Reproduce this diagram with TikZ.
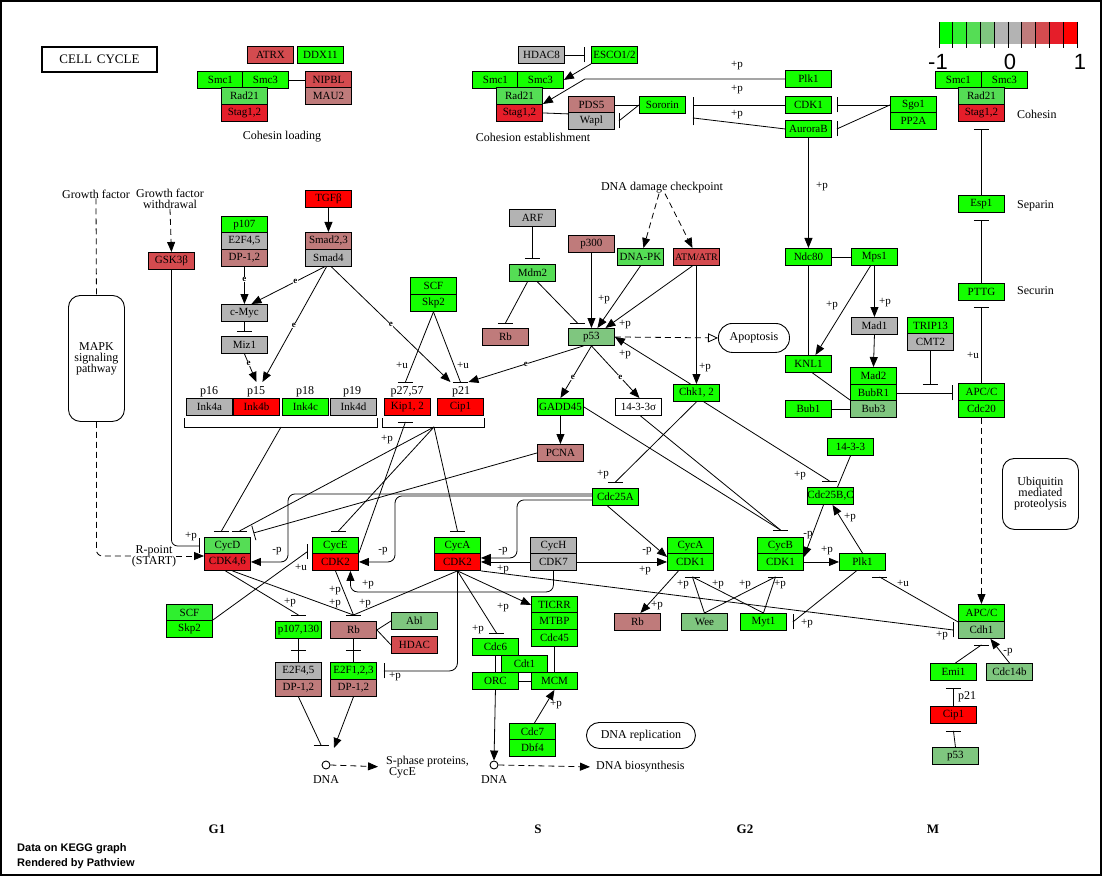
\documentclass[tikz,border=0pt]{standalone}
\usepackage{fontspec}
\setmainfont{Liberation Serif}
\newfontfamily\legsans{Liberation Sans}
\usetikzlibrary{arrows.meta,calc}
\pgfdeclarelayer{bg}
\pgfsetlayers{bg,main}
\definecolor{gA}{RGB}{20,255,0}
\definecolor{gB}{RGB}{47,239,47}
\definecolor{gC}{RGB}{85,221,85}
\definecolor{gD}{RGB}{127,198,127}
\definecolor{gy}{RGB}{179,179,179}
\definecolor{rA}{RGB}{191,123,123}
\definecolor{rB}{RGB}{212,75,79}
\definecolor{rC}{RGB}{229,30,42}
\definecolor{rD}{RGB}{255,0,0}
\definecolor{lg1}{RGB}{0,255,0}
\definecolor{lg2}{RGB}{47,239,47}
\definecolor{lg3}{RGB}{85,221,85}
\definecolor{lg4}{RGB}{127,198,127}
\definecolor{lg5}{RGB}{179,179,179}
\definecolor{lg6}{RGB}{179,179,179}
\definecolor{lg7}{RGB}{191,123,123}
\definecolor{lg8}{RGB}{212,75,79}
\definecolor{lg9}{RGB}{229,30,42}
\definecolor{lg10}{RGB}{255,0,0}
\newcommand{\kgf}{\fontsize{11}{11}\selectfont}
\newcommand{\kgs}{\fontsize{10}{10}\selectfont}
\newcommand{\kgl}{\fontsize{11}{11}\selectfont}
\newcommand{\kgt}{\fontsize{12}{11}\selectfont}
\newcommand{\kge}{\bfseries\fontsize{9}{9}\selectfont}
\newcommand{\kgc}{\fontsize{13}{13}\selectfont}
\newcommand{\kgp}{\bfseries\fontsize{13}{13}\selectfont}
\newcommand{\kgd}{\legsans\bfseries\fontsize{11}{11}\selectfont}
\newcommand{\kglg}{\legsans\fontsize{22}{22}\selectfont}
\newcommand{\kHB}[1]{\draw[line width=0.8pt] ([xshift=-7.5pt]#1) -- ([xshift=7.5pt]#1);}
\newcommand{\kVB}[1]{\draw[line width=0.8pt] ([yshift=-7.5pt]#1) -- ([yshift=7.5pt]#1);}
\begin{document}
\begin{tikzpicture}[x=1pt,y=-1pt,
  kb/.style={draw, line width=0.9pt, minimum width=46pt, minimum height=17pt, inner sep=0pt, anchor=north west, font=\kgf},
  lbl/.style={font=\kgl, inner sep=0.5pt},
  txt/.style={font=\kgt, inner sep=0pt, align=center},
  elbl/.style={font=\kge, fill=white, inner sep=0.4pt},
  ln/.style={line width=0.8pt},
  tipa/.style={-{Triangle[length=10pt,width=8pt]}},
  act/.style={ln, tipa},
  bartip/.style={ln, -{Bar[width=15pt]}},
  dsh/.style={ln, dash pattern=on 6pt off 4pt},
  rbox/.style={draw, line width=0.9pt, anchor=north west, inner sep=0pt, align=center, font=\kgt},
  circ/.style={circle, draw, line width=0.9pt, minimum size=8pt, inner sep=0pt, fill=white}
]
\useasboundingbox (0,0) rectangle (1105,877);
\begin{pgfonlayer}{bg}
\fill[white] (0,0) rectangle (1105,877);
\end{pgfonlayer}
\draw[line width=2pt] (1,1) rectangle (1101,875);

% legend
\foreach \c [count=\i from 0] in {lg1,lg2,lg3,lg4,lg5,lg6,lg7,lg8,lg9,lg10}
  \fill[\c] (939+13.8*\i,22) rectangle ++(13.8,22);
\foreach \i in {0,...,10} \draw[ln] (939+13.8*\i,22) -- ++(0,26);
\node[font=\kglg, inner sep=0pt] (lgA) at (938,62) {-1};
\node[font=\kglg, inner sep=0pt] (lgB) at (1010,62) {0};
\node[font=\kglg, inner sep=0pt] (lgC) at (1080,62) {1};

% title
\node[draw, line width=2pt, minimum width=115pt, minimum height=25pt, anchor=north west, inner sep=0pt, font=\kgc] (cellcycle) at (41,46) {CELL\hspace{5pt}CYCLE};

% cohesin loading
\node[kb, fill=rB] (atrx) at (247,46) {ATRX};
\node[kb, fill=gA] (ddx11) at (297,46) {DDX11};
\node[kb, fill=gA] (smc1a) at (197,71) {Smc1};
\node[kb, fill=gA] (smc3a) at (242,71) {Smc3};
\node[kb, fill=gC] (rad21a) at (221,87) {Rad21};
\node[kb, fill=rC] (stag1a) at (221,104) {Stag1,2};
\node[kb, fill=rB] (nipbl) at (305,71) {NIPBL};
\node[kb, fill=rA] (mau2) at (305,87) {MAU2};
% cohesion establishment
\node[kb, fill=gy] (hdac8) at (518,46) {HDAC8};
\node[kb, fill=gA] (esco) at (591,46) {ESCO1/2};
\node[kb, fill=gA] (smc1b) at (472,71) {Smc1};
\node[kb, fill=gA] (smc3b) at (517,71) {Smc3};
\node[kb, fill=gC] (rad21b) at (496,87) {Rad21};
\node[kb, fill=rC] (stag1b) at (496,104) {Stag1,2};
\node[kb, fill=rA] (pds5) at (568,96) {PDS5};
\node[kb, fill=gy] (wapl) at (568,112) {Wapl};
\node[kb, fill=gA] (sororin) at (639,96) {Sororin};
% top right
\node[kb, fill=gA] (plk1a) at (785,70) {Plk1};
\node[kb, fill=gA] (cdk1a) at (785,96) {CDK1};
\node[kb, fill=gA] (aurb) at (785,120) {AuroraB};
\node[kb, fill=gA] (sgo1) at (890,96) {Sgo1};
\node[kb, fill=gA] (pp2a) at (890,112) {PP2A};
\node[kb, fill=gA] (smc1c) at (935,71) {Smc1};
\node[kb, fill=gA] (smc3c) at (981,71) {Smc3};
\node[kb, fill=gC] (rad21c) at (958,87) {Rad21};
\node[kb, fill=rC] (stag1c) at (958,104) {Stag1,2};
\node[kb, fill=gA] (esp1) at (958,195) {Esp1};
\node[kb, fill=gA] (pttg) at (958,283) {PTTG};
\node[kb, fill=gA] (ndc80) at (785,248) {Ndc80};
\node[kb, fill=gA] (mps1) at (851,248) {Mps1};
\node[kb, fill=gy] (mad1) at (851,317) {Mad1};
\node[kb, fill=gA] (trip13) at (907,317) {TRIP13};
\node[kb, fill=gy] (cmt2) at (907,333) {CMT2};
\node[kb, fill=gA] (knl1) at (785,355) {KNL1};
\node[kb, fill=gA] (mad2) at (850,367) {Mad2};
\node[kb, fill=gA] (bubr1) at (850,384) {BubR1};
\node[kb, fill=gD] (bub3) at (850,400) {Bub3};
\node[kb, fill=gA] (bub1) at (785,400) {Bub1};
\node[kb, fill=gA] (apcc1) at (958,383) {APC/C};
\node[kb, fill=gA] (cdc20) at (958,400) {Cdc20};
\node[kb, fill=gA] (f1433) at (827,438) {14-3-3};
\node[kb, fill=gA] (cdc25bc) at (807,487) {Cdc25B,C};
\node[kb, fill=gA] (cycb) at (757,537) {CycB};
\node[kb, fill=gA] (cdk1b) at (757,553) {CDK1};
\node[kb, fill=gA] (plk1b) at (839,553) {Plk1};
\node[kb, fill=gA] (apcc2) at (958,604) {APC/C};
\node[kb, fill=gD] (cdh1) at (958,621) {Cdh1};
\node[kb, fill=gA] (emi1) at (930,663) {Emi1};
\node[kb, fill=gD] (cdc14b) at (986,663) {Cdc14b};
\node[kb, fill=rD] (cip1b) at (930,706) {Cip1};
\node[kb, fill=gD] (p53b) at (932,747) {p53};
% middle
\node[kb, fill=gy] (arf) at (509,209) {ARF};
\node[kb, fill=gC] (mdm2) at (509,264) {Mdm2};
\node[kb, fill=rA] (p300) at (568,235) {p300};
\node[kb, fill=gC] (dnapk) at (617,248) {DNA-PK};
\node[kb, fill=rB, font=\kgs] (atm) at (673,248) {ATM/ATR};
\node[kb, fill=rA] (rb1) at (482,328) {Rb};
\node[kb, fill=gD] (p53) at (568,328) {p53};
\node[kb, fill=gA] (chk) at (673,384) {Chk1, 2};
\node[kb, fill=gA] (scf1) at (410,277) {SCF};
\node[kb, fill=gA] (skp2a) at (410,294) {Skp2};
\node[kb, fill=rD] (kip) at (384,398) {Kip1, 2};
\node[kb, fill=rD] (cip1) at (437,398) {Cip1};
\node[kb, fill=gA] (gadd45) at (537,398) {GADD45};
\node[kb, fill=white] (sigma) at (615,398) {14-3-3σ};
\node[kb, fill=rA] (pcna) at (537,444) {PCNA};
\node[kb, fill=gA] (cdc25a) at (592,488) {Cdc25A};
\node[kb, fill=gA] (cyca2) at (434,537) {CycA};
\node[kb, fill=rD] (cdk2a) at (434,553) {CDK2};
\node[kb, fill=gy] (cych) at (530,537) {CycH};
\node[kb, fill=gy] (cdk7) at (530,553) {CDK7};
\node[kb, fill=gA] (cyca1) at (667,537) {CycA};
\node[kb, fill=gA] (cdk1c) at (667,553) {CDK1};
\node[kb, fill=gA] (ticrr) at (531,596) {TICRR};
\node[kb, fill=gA] (mtbp) at (531,612) {MTBP};
\node[kb, fill=gA] (cdc45) at (531,629) {Cdc45};
\node[kb, fill=gA] (cdc6) at (472,638) {Cdc6};
\node[kb, fill=gA] (cdt1) at (501,655) {Cdt1};
\node[kb, fill=gA] (orc) at (472,672) {ORC};
\node[kb, fill=gA] (mcm) at (531,672) {MCM};
\node[kb, fill=gA] (cdc7) at (509,723) {Cdc7};
\node[kb, fill=gA] (dbf4) at (509,739) {Dbf4};
\node[kb, fill=rA] (rb3) at (614,613) {Rb};
\node[kb, fill=gD] (wee) at (681,613) {Wee};
\node[kb, fill=gA] (myt1) at (740,613) {Myt1};
% left
\node[kb, fill=rB] (gsk) at (148,252) {GSK3β};
\node[kb, fill=rD] (tgfb) at (305,190) {TGFβ};
\node[kb, fill=rA] (smad23) at (305,232) {Smad2,3};
\node[kb, fill=gy] (smad4) at (305,249) {Smad4};
\node[kb, fill=gA] (p107a) at (221,216) {p107};
\node[kb, fill=gy] (e2f45a) at (221,232) {E2F4,5};
\node[kb, fill=rA] (dp12a) at (221,249) {DP-1,2};
\node[kb, fill=gy] (cmyc) at (221,304) {c-Myc};
\node[kb, fill=gy] (miz1) at (221,336) {Miz1};
\node[kb, fill=gy] (ink4a) at (186,398) {Ink4a};
\node[kb, fill=rD] (ink4b) at (233,398) {Ink4b};
\node[kb, fill=gA] (ink4c) at (282,398) {Ink4c};
\node[kb, fill=gy] (ink4d) at (330,398) {Ink4d};
\node[kb, fill=gC] (cycd) at (204,537) {CycD};
\node[kb, fill=rC] (cdk46) at (204,553) {CDK4,6};
\node[kb, fill=gA] (cyce) at (312,537) {CycE};
\node[kb, fill=rD] (cdk2e) at (312,553) {CDK2};
\node[kb, fill=gB] (scf2) at (166,604) {SCF};
\node[kb, fill=gA] (skp2b) at (166,620) {Skp2};
\node[kb, fill=gA] (p107130) at (275,621) {p107,130};
\node[kb, fill=rA] (rb2) at (330,621) {Rb};
\node[kb, fill=gD] (abl) at (391,612) {Abl};
\node[kb, fill=rB] (hdac) at (391,636) {HDAC};
\node[kb, fill=gy] (e2f45b) at (275,662) {E2F4,5};
\node[kb, fill=rA] (dp12b) at (275,679) {DP-1,2};
\node[kb, fill=gA] (e2f123) at (330,662) {E2F1,2,3};
\node[kb, fill=rA] (dp12c) at (330,679) {DP-1,2};
\node[circ] (dna1) at (326,765) {};
\node[circ] (dna2) at (494,765) {};

% rounded boxes
\node[rbox, minimum width=56pt, minimum height=126pt, rounded corners=12pt] (mapk) at (68,295) {MAPK\\signaling\\pathway};
\node[rbox, minimum width=71pt, minimum height=29pt, rounded corners=14pt, fill=white] (apop) at (718,323) {Apoptosis};
\node[rbox, minimum width=76pt, minimum height=71pt, rounded corners=12pt] (ubiq) at (1002,458) {Ubiquitin\\mediated\\proteolysis};
\node[rbox, minimum width=109pt, minimum height=26pt, rounded corners=13pt] (dnarep) at (586,722) {DNA replication};

% texts
\node[txt] (tcl) at (282,137) {Cohesin loading};
\node[txt] (tce) at (533,137) {Cohesion establishment};
\node[txt, anchor=west] (tcoh) at (1017,114) {Cohesin};
\node[txt, anchor=west] (tsep) at (1017,206) {Separin};
\node[txt, anchor=west] (tsec) at (1017,291) {Securin};
\node[txt] (gf) at (96,194) {Growth factor};
\node[txt] (gfw) at (170,199) {Growth factor\\withdrawal};
\node[txt] (ddc) at (662,188) {DNA damage checkpoint};
\node[txt] (rpt) at (154,556) {R-point\\(START)};
\node[txt, align=left, anchor=west] (sph) at (386,767) {S-phase proteins,\\\hspace{3pt}CycE};
\node[txt] (tdna1) at (326,780) {DNA};
\node[txt] (tdna2) at (494,780) {DNA};
\node[txt, anchor=west] (dnabio) at (596,767) {DNA biosynthesis};
\node[txt] (tp16) at (209,392) {p16};
\node[txt] (tp15) at (256,392) {p15};
\node[txt] (tp18) at (305,392) {p18};
\node[txt] (tp19) at (352,392) {p19};
\node[txt] (tp27) at (407,392) {p27,57};
\node[txt] (tp21) at (461,392) {p21};
\node[txt, anchor=west] (tp21b) at (958,697) {p21};
\node[font=\kgp] (phG1) at (217,829) {G1};
\node[font=\kgp] (phS) at (538,829) {S};
\node[font=\kgp] (phG2) at (745,829) {G2};
\node[font=\kgp] (phM) at (933,829) {M};
\node[font=\kgd, anchor=west, inner sep=0pt] (dk1) at (17,849) {Data on KEGG graph};
\node[font=\kgd, anchor=west, inner sep=0pt] (dk2) at (17,864) {Rendered by Pathview};

% labels
\foreach \x/\y/\t [count=\i] in {737/66/+p, 737/90/+p, 737/115/+p, 822/187/+p, 832/306/+p, 885/303/+p, 973/355/+u,
  402/365/+u, 463/365/+u, 604/300/+p, 625/325/+p, 625/355/+p, 705/368/+p, 387/440/+p, 603/475/+p, 800/476/+p,
  191/537/+p, 277/551/-p, 301/567/+u, 383/551/-p, 503/551/-p, 503/570/+p, 368/585/+p, 647/551/-p, 645/571/+p,
  827/551/+p, 808/535/-p, 850/518/+p, 290/603/+p, 335/591/+p, 335/604/+p, 365/604/+p, 503/608/+p, 478/630/+p,
  395/677/+p, 556/705/+p, 657/606/+p, 683/585/+p, 718/585/+p, 745/585/+p, 780/585/+p, 807/624/+p, 903/583/+u,
  942/636/+p, 1008/652/-p}
  \node[lbl] (lab\i) at (\x,\y) {\t};

\begin{pgfonlayer}{bg}
% cohesin
\draw[ln] (smc3a.east) -- (nipbl.west);
\coordinate (b_esco) at ([xshift=-7pt]esco.west);
\draw[ln] (hdac8.east) -- (b_esco); \kVB{b_esco}
\draw[act] (esco.south west) -- (smc3b.east);
\draw[act] (plk1a.west) -- ++(-200,0) -- (stag1b.north east);
\draw[ln] (stag1b.east) -- (pds5.south west);
\draw[ln] (pds5.east) -- (sororin.west);
\coordinate (b_wapl) at ([xshift=4pt]wapl.east);
\draw[ln] (sororin.west) -- (b_wapl); \kVB{b_wapl}
\coordinate (b_sor1) at ([xshift=7pt]sororin.east);
\coordinate (b_sor2) at ([xshift=7pt,yshift=-13pt]sororin.east);
\draw[ln] (cdk1a.west) -- (b_sor1); \kVB{b_sor1}
\draw[ln] (aurb.west) -- (b_sor2); \kVB{b_sor2}
\coordinate (b_sg1) at ([xshift=5pt]cdk1a.east);
\coordinate (b_sg2) at ([xshift=5pt]aurb.east);
\draw[ln] (sgo1.west) -- (b_sg1); \kVB{b_sg1}
\draw[ln] (sgo1.west) -- (b_sg2); \kVB{b_sg2}
\coordinate (b_stag) at ([yshift=-8pt]stag1c.south);
\draw[ln] (esp1.north) -- (b_stag); \kHB{b_stag}
\coordinate (b_esp) at ([yshift=-8pt]esp1.south);
\draw[ln] (pttg.north) -- (b_esp); \kHB{b_esp}
\coordinate (b_pttg) at ([yshift=-6pt]pttg.south);
\draw[ln] (apcc1.north) -- (b_pttg); \kHB{b_pttg}
\draw[dsh, tipa] (cdc20.south) -- (apcc2.north);
% spindle checkpoint
\draw[act] (aurb.south) -- (ndc80.north);
\draw[ln] (ndc80.east) -- (mps1.west);
\draw[ln] (ndc80.south) -- (knl1.north);
\draw[act] (mps1.south) -- (mad1.north);
\draw[act] ([xshift=-4pt]mps1.south) -- ([xshift=7pt]knl1.north);
\draw[ln] ([xshift=4pt]knl1.south) -- (bub3.north west);
\draw[ln] (bub1.east) -- (bub3.west);
\draw[act] (mad1.south) -- (mad2.north);
\coordinate (b_cmt) at (cmt2.south |- bubr1.north);
\draw[ln] (cmt2.south) -- (b_cmt); \kHB{b_cmt}
\coordinate (b_apc) at ($(bubr1.east -| apcc1.west)+(-6,0)$);
\draw[ln] (bubr1.east) -- (b_apc); \kVB{b_apc}
% p53
\coordinate (b_mdm) at ([yshift=6pt]mdm2.north);
\draw[ln] (arf.south) -- (b_mdm); \kHB{b_mdm}
\coordinate (b_rb1) at ([yshift=5pt]rb1.north);
\draw[ln] ([xshift=-5pt]mdm2.south) -- (b_rb1); \kHB{b_rb1}
\coordinate (b_p53) at ([xshift=-14pt,yshift=5pt]p53.north);
\draw[ln] ([xshift=5pt]mdm2.south) -- (b_p53); \kHB{b_p53}
\draw[act] (p300.south) -- (p53.north);
\draw[act] (dnapk.south) -- ([xshift=6pt]p53.north);
\draw[act] ([xshift=-4pt]atm.south) -- ([xshift=14pt]p53.north);
\draw[act] (atm.south) -- (chk.north);
\draw[act] ([xshift=-6pt]chk.north) -- (p53.east);
\draw[dsh, -{Triangle[open,length=10pt,width=9pt]}] (p53.east) -- (apop.west);
\draw[dsh, tipa] ([xshift=-3pt]ddc.south) -- ([xshift=3pt]dnapk.north);
\draw[dsh, tipa] ([xshift=3pt]ddc.south) -- ([xshift=-4pt]atm.north);
\draw[act] (p53.south) -- node[elbl, pos=0.6] (e7) {e} (gadd45.north);
\draw[act] (p53.south) -- node[elbl, pos=0.6] (e8) {e} ([xshift=1pt]sigma.north);
\draw[act] ([xshift=-8pt]p53.south) -- node[elbl, pos=0.5] (e6) {e} ([xshift=8pt,yshift=16pt]cip1.north);
\draw[act] (gadd45.south) -- (pcna.north);
% TGF / Smad
\draw[act] (tgfb.south) -- (smad23.north);
\draw[act] ([xshift=-4pt]smad4.south) -- node[elbl, pos=0.4] (e2) {e} ([xshift=7pt]cmyc.north);
\draw[act] (dp12a.south) -- node[elbl, pos=0.34] (e1) {e} (cmyc.north);
\draw[act] ([xshift=-2pt]smad4.south) -- node[elbl, pos=0.51] (e3) {e} ([xshift=6pt,yshift=16pt]ink4b.north);
\draw[act] ([xshift=3pt]smad4.south) -- node[elbl, pos=0.5] (e5) {e} ([xshift=-10pt,yshift=16pt]cip1.north);
\coordinate (b_miz) at ([yshift=5pt]miz1.north);
\draw[ln] (cmyc.south) -- (b_miz); \kHB{b_miz}
\draw[act] (miz1.south) -- node[elbl, pos=0.35] (e4) {e} ([yshift=16pt]ink4b.north);
\coordinate (b_kipu) at ([xshift=-2pt,yshift=16pt]kip.north);
\coordinate (b_cipu) at ([yshift=16pt]cip1.north);
\draw[ln] (skp2a.south) -- (b_kipu); \kHB{b_kipu}
\draw[ln] (skp2a.south) -- (b_cipu); \kHB{b_cipu}
% brackets
\draw[ln] (184,418) -- (184,427) -- (377,427) -- (377,418);
\draw[ln] (382,418) -- (382,427) -- (484,427) -- (484,418);
\coordinate (inkbr) at (281,427);
\coordinate (kipbr) at (434,427);
\coordinate (b_d1) at ([xshift=-6pt,yshift=6pt]cycd.north);
\coordinate (b_d2) at ([xshift=12pt,yshift=6pt]cycd.north);
\draw[ln] (inkbr) -- (b_d1); \kHB{b_d1}
\draw[ln] (kipbr) -- (b_d2); \kHB{b_d2}
\draw[bartip] (pcna.west) -- ([xshift=26pt,yshift=4pt]cycd.north);
\coordinate (b_e1) at ([xshift=3pt,yshift=6pt]cyce.north);
\draw[ln] (kipbr) -- (b_e1); \kHB{b_e1}
\coordinate (b_a1) at ([yshift=6pt]cyca2.north);
\draw[ln] (kipbr) -- (b_a1); \kHB{b_a1}
\coordinate (b_kip) at ([xshift=-2pt,yshift=-6pt]kip.south);
\draw[ln] (cdk2e.north east) -- (b_kip); \kHB{b_kip}
% GSK3b, MAPK
\coordinate (b_gsk) at ([xshift=-5pt]cycd.west);
\draw[ln, rounded corners=6pt] (gsk.south) |- (b_gsk); \kVB{b_gsk}
\draw[dsh] (gf.south) -- (mapk.north);
\draw[dsh, tipa] (gfw.south) -- (gsk.north);
\draw[dsh, rounded corners=6pt] (mapk.south) |- (rpt.west);
\draw[dsh, tipa] (rpt.east) -- (rpt.east -| cycd.west);
% Cdc25A
\draw[act, rounded corners=7pt] ([yshift=3pt]cdc25a.west) -- ++(-304,0) |- (cdk46.east);
\draw[act, rounded corners=7pt] ([yshift=1pt]cdc25a.west) -- ++(-197,0) |- (cdk2e.east);
\draw[act, rounded corners=7pt] ([yshift=-3pt]cdc25a.west) -- ++(-75,0) |- ([yshift=4pt]cdk2a.east);
\draw[act] (cdk7.west) -- (cdk2a.east);
\draw[act] ([xshift=-8pt]cdc25a.south) -- ([yshift=5pt]cdk1c.west);
\draw[act] (cdk7.east) -- (cdk1c.west);
\draw[act, rounded corners=7pt] (cdk7.south) -- ++(0,21) -| ([xshift=15pt]cdk2e.south);
% Chk1,2 / G2
\coordinate (b_25a) at ([yshift=6pt]cdc25a.north);
\draw[ln] (chk.south) -- (b_25a); \kHB{b_25a}
\coordinate (b_25bc) at ([xshift=-1pt,yshift=6pt]cdc25bc.north);
\draw[ln] ([xshift=-16pt]chk.south east) -- (b_25bc); \kHB{b_25bc}
\coordinate (b_cycb) at ([yshift=7pt]cycb.north);
\draw[ln] (gadd45.east) -- (b_cycb);
\draw[ln] ([xshift=2pt]sigma.south) -- (b_cycb); \kHB{b_cycb}
\draw[ln] (f1433.south) -- ([xshift=7pt]cdc25bc.north);
\draw[act] (cdk1b.east) -- (plk1b.west);
\draw[act] ([xshift=-7pt]cdc25bc.south) -- ([yshift=-4pt]cdk1b.north east);
\draw[act] (plk1b.north) -- ([xshift=2pt]cdc25bc.south);
\draw[act] ([xshift=-12pt]cdk1c.south) -- ([xshift=3pt]rb3.north);
\coordinate (b_ca1) at ([xshift=2pt,yshift=-6pt]cdk1c.south);
\coordinate (b_cb1) at ([xshift=-5pt,yshift=-6pt]cdk1b.south);
\draw[ln] (wee.north) -- (b_ca1);
\draw[ln] (wee.north) -- (b_cb1);
\draw[ln] (myt1.north) -- (b_ca1);
\draw[ln] (myt1.north) -- (b_cb1); \kHB{b_ca1} \kHB{b_cb1}
\coordinate (b_myt) at ([xshift=6pt]myt1.east);
\draw[ln] ([xshift=-6pt]plk1b.south) -- (b_myt); \kVB{b_myt}
\coordinate (b_plk) at ([xshift=17pt,yshift=-6pt]plk1b.south);
\draw[ln] (apcc2.south west) -- (b_plk); \kHB{b_plk}
\coordinate (b_cdh) at ([xshift=-5pt]cdh1.west);
\draw[ln] (cdk2a.south east) -- (b_cdh); \kVB{b_cdh}
\coordinate (b_cdh2) at ([yshift=-6pt]cdh1.south);
\draw[ln] ([xshift=2pt]emi1.north) -- (b_cdh2); \kHB{b_cdh2}
\draw[act] (cdc14b.north) -- ([xshift=9pt]cdh1.south);
\coordinate (b_emi) at ([yshift=-7pt]emi1.south);
\draw[ln] (cip1b.north) -- (b_emi); \kHB{b_emi}
\coordinate (b_cipb) at ([yshift=-7pt]cip1b.south);
\draw[ln] (p53b.north) -- (b_cipb); \kHB{b_cipb}
% G1 bottom
\coordinate (b_p107) at ([yshift=6pt]p107130.north);
\coordinate (b_rb2) at ([yshift=6pt]rb2.north);
\draw[ln] ([xshift=-2pt]cdk46.south) -- (b_p107); \kHB{b_p107}
\draw[ln] ([xshift=5pt]cdk46.south) -- (b_rb2);
\draw[ln] (cdk2e.south) -- (b_rb2);
\draw[ln] (cdk2a.south) -- (b_rb2); \kHB{b_rb2}
\coordinate (b_cye2) at ([xshift=-5pt,yshift=3pt]cyce.south west);
\draw[ln] (skp2b.north east) -- (b_cye2); \kVB{b_cye2}
\draw[ln] (rb2.east) -- (abl.west);
\draw[ln] (rb2.east) -- (hdac.west);
\coordinate (m1) at ($(p107130.south)!0.5!(e2f45b.north)$);
\draw[ln] (p107130.south) -- (e2f45b.north); \kHB{m1}
\coordinate (m2) at ($(rb2.south)!0.5!(e2f123.north)$);
\draw[ln] (rb2.south) -- (e2f123.north); \kHB{m2}
\coordinate (b_dna) at ([xshift=-5pt,yshift=20pt]dna1.center);
\draw[ln] (dp12b.south) -- (b_dna); \kHB{b_dna}
\draw[act] (dp12c.south) -- ([xshift=8pt,yshift=17pt]dna1.center);
\draw[dsh, tipa, shorten >=8pt] (dna1.east) -- (sph.west);
\draw[dsh, tipa, shorten >=6pt] (dna2.east) -- (dnabio.west);
% S phase
\draw[act] (cdk2a.south) -- (ticrr.west);
\coordinate (b_cdc6) at ([xshift=1pt,yshift=5pt]cdc6.north);
\draw[ln] (cdk2a.south) -- (b_cdc6); \kHB{b_cdc6}
\coordinate (b_e2f) at ([xshift=7pt]e2f123.east);
\draw[ln, rounded corners=8pt] (cdk2a.south) |- (b_e2f); \kVB{b_e2f}
\draw[ln] (cdc6.south) -- (orc.north);
\draw[ln] (orc.east) -- (mcm.west);
\draw[ln] (cdc45.south) -- (mcm.north);
\draw[act] (orc.south) -- (dna2.north);
\draw[act] ([xshift=2pt]cdc7.north) -- (mcm.south);
\end{pgfonlayer}
\end{tikzpicture}
\end{document}
